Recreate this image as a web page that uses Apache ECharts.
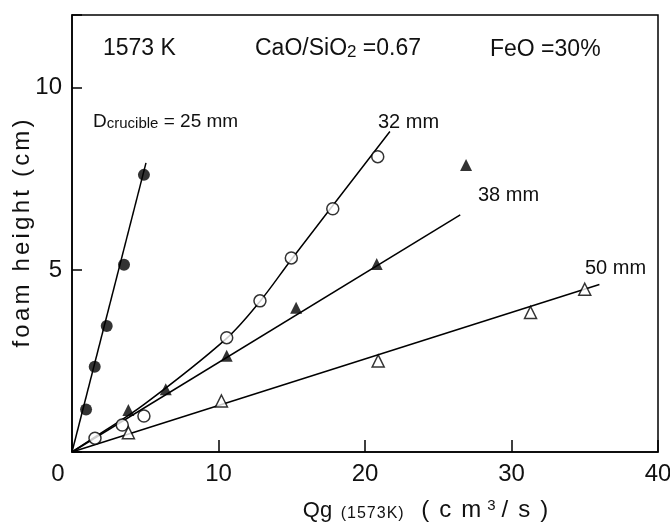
<!DOCTYPE html>
<html>
<head>
<meta charset="utf-8">
<script src="https://cdn.jsdelivr.net/npm/echarts@6/dist/echarts.min.js"></script>
<style>
  html, body { margin: 0; padding: 0; background: #fff; }
  #chart { width: 670px; height: 522px; }
</style>
</head>
<body>
<div id="chart"></div>
<script>
// Axis ticks
const xTickLabels = [0, 10, 20, 30, 40];
const yTickLabels = [5, 10];

// Measured foam heights (cm) against gas flow rate Qg (cm3/s), one array per crucible diameter
const d25 = [[0.96, 1.17], [1.55, 2.34], [2.37, 3.46], [3.55, 5.14], [4.91, 7.61]];
const d32 = [[1.57, 0.38], [3.43, 0.74], [4.91, 0.99], [10.56, 3.14], [12.83, 4.15], [14.97, 5.33], [17.8, 6.68], [20.87, 8.11]];
const d38 = [[3.85, 1.15], [6.4, 1.72], [10.56, 2.64], [15.3, 3.96], [20.8, 5.16], [26.9, 7.88]];
const d50 = [[3.85, 0.53], [10.2, 1.40], [20.9, 2.5], [31.3, 3.83], [35.0, 4.47]];

// Trend lines drawn through each data set
const fit25 = [[0, 0], [5.05, 7.94]];
const fit32 = [[0, 0], [1.6, 0.42], [4.9, 1.3], [10.5, 3.1], [12.8, 4.12], [15, 5.3], [21.7, 8.8]];
const fit38 = [[0, 0], [26.5, 6.51]];
const fit50 = [[0, 0], [36.0, 4.6]];

const diameterLabels = ['Dcrucible = 25 mm', '32 mm', '38 mm', '50 mm'];

const FONT = '"Liberation Sans", Arial, sans-serif';
const INK = '#111';

// Splits a string into one rich token per character so that extra
// spacing between letters can be added through token padding.
function spaced(text, style) {
  return text.split('').map(function (ch) { return '{' + style + '|' + ch + '}'; }).join('');
}

const chart = echarts.init(document.getElementById('chart'), null, { renderer: 'canvas' });

const lineStyle = { color: '#000', width: 1.5 };

function fitSeries(data, smooth) {
  return {
    type: 'line', data: data, showSymbol: false, symbol: 'none',
    smooth: smooth || false, lineStyle: lineStyle, silent: true, z: 2
  };
}

function markerSeries(data, symbol, filled) {
  return {
    type: 'scatter', data: data, symbol: symbol, symbolSize: 12,
    itemStyle: filled
      ? { color: '#000' }
      : { color: '#fff', borderColor: '#000', borderWidth: 1.5 },
    silent: true, z: 3
  };
}

const option = {
  animation: false,
  backgroundColor: '#fff',
  grid: {
    left: 72, right: 12, top: 15, bottom: 70,
    containLabel: false, outerBoundsMode: 'none',
    show: true, borderColor: '#000', borderWidth: 1.5, backgroundColor: 'transparent'
  },
  xAxis: {
    type: 'value', min: 0, max: 40, interval: 10,
    axisLine: { show: true, onZero: false, lineStyle: lineStyle },
    axisTick: { show: true, inside: true, length: 12, lineStyle: lineStyle },
    splitLine: { show: false },
    axisLabel: {
      margin: 10, color: INK, fontFamily: FONT, fontSize: 24,
      formatter: function (v) {
        if (xTickLabels.indexOf(v) < 0) return '';
        return v === 0 ? '{z|0}' : String(v);
      },
      rich: { z: { fontFamily: FONT, fontSize: 24, color: INK, padding: [0, 28, 0, 0] } }
    },
    name: '{q|Qg}{g1| }' + spaced('(1573K)', 'k') + '{g2| }' + spaced('(cm', 'u') + '{p|3}' + spaced('/s)', 'u'),
    nameLocation: 'middle',
    nameGap: 46,
    nameMoveOverlap: false,
    nameTextStyle: {
      padding: [0, 0, 0, 126],
      rich: {
        q: { fontFamily: FONT, fontSize: 22, color: INK, verticalAlign: 'bottom' },
        g1: { width: 8, fontSize: 22 },
        g2: { width: 12, fontSize: 22 },
        k: { fontFamily: FONT, fontSize: 16, color: INK, padding: [0, 0.5], verticalAlign: 'bottom' },
        u: { fontFamily: FONT, fontSize: 24, color: INK, padding: [0, 5], verticalAlign: 'bottom' },
        p: { fontFamily: FONT, fontSize: 15, color: INK, padding: [0, 1], verticalAlign: 'top' }
      }
    }
  },
  yAxis: {
    type: 'value', min: 0, max: 12, interval: 5,
    axisLine: { show: true, onZero: false, lineStyle: lineStyle },
    axisTick: { show: true, inside: true, length: 10, lineStyle: lineStyle },
    splitLine: { show: false },
    axisLabel: {
      margin: 10, color: INK, fontFamily: FONT, fontSize: 24,
      formatter: function (v) { return yTickLabels.indexOf(v) >= 0 ? String(v) : ''; }
    },
    name: spaced('foam height (cm)', 'y'),
    nameLocation: 'middle',
    nameRotate: 90,
    nameGap: 38,
    nameMoveOverlap: false,
    nameTextStyle: {
      rich: { y: { fontFamily: FONT, fontSize: 24, color: INK, padding: [0, 1.6] } }
    }
  },
  series: [
    fitSeries(fit25),
    fitSeries(fit32, 0.35),
    fitSeries(fit38),
    fitSeries(fit50),
    markerSeries(d25, 'circle', true),
    markerSeries(d32, 'circle', false),
    markerSeries(d38, 'triangle', true),
    markerSeries(d50, 'triangle', false)
  ],
  graphic: [
    {
      type: 'text', z: 10, silent: true,
      style: { x: 103, y: 49, text: '1573 K', font: '23px ' + FONT, fill: INK, verticalAlign: 'middle', textVerticalAlign: 'middle' }
    },
    {
      type: 'text', z: 10, silent: true,
      style: {
        x: 255, y: 49, text: '{a|CaO/SiO}{b|2}{a| =0.67}', fill: INK,
        verticalAlign: 'middle', textVerticalAlign: 'middle',
        rich: {
          a: { fontFamily: FONT, fontSize: 23, fill: INK, color: INK, verticalAlign: 'bottom' },
          b: { fontFamily: FONT, fontSize: 17, fill: INK, color: INK, verticalAlign: 'bottom' }
        }
      }
    },
    {
      type: 'text', z: 10, silent: true,
      style: { x: 490, y: 50, text: 'FeO =30%', font: '23px ' + FONT, fill: INK, verticalAlign: 'middle', textVerticalAlign: 'middle' }
    },
    {
      type: 'text', z: 10, silent: true,
      style: {
        x: 93, y: 122, fill: INK,
        text: '{d|' + diameterLabels[0].charAt(0) + '}{s|' + diameterLabels[0].slice(1, 9) + '}{d|' + diameterLabels[0].slice(9) + '}',
        verticalAlign: 'middle', textVerticalAlign: 'middle',
        rich: {
          d: { fontFamily: FONT, fontSize: 19, fill: INK, color: INK, verticalAlign: 'bottom' },
          s: { fontFamily: FONT, fontSize: 15, fill: INK, color: INK, verticalAlign: 'bottom' }
        }
      }
    },
    {
      type: 'text', z: 10, silent: true,
      style: { x: 378, y: 122, text: diameterLabels[1], font: '20px ' + FONT, fill: INK, verticalAlign: 'middle', textVerticalAlign: 'middle' }
    },
    {
      type: 'text', z: 10, silent: true,
      style: { x: 478, y: 195, text: diameterLabels[2], font: '20px ' + FONT, fill: INK, verticalAlign: 'middle', textVerticalAlign: 'middle' }
    },
    {
      type: 'text', z: 10, silent: true,
      style: { x: 585, y: 268, text: diameterLabels[3], font: '20px ' + FONT, fill: INK, verticalAlign: 'middle', textVerticalAlign: 'middle' }
    }
  ]
};

chart.setOption(option);
</script>
</body>
</html>
